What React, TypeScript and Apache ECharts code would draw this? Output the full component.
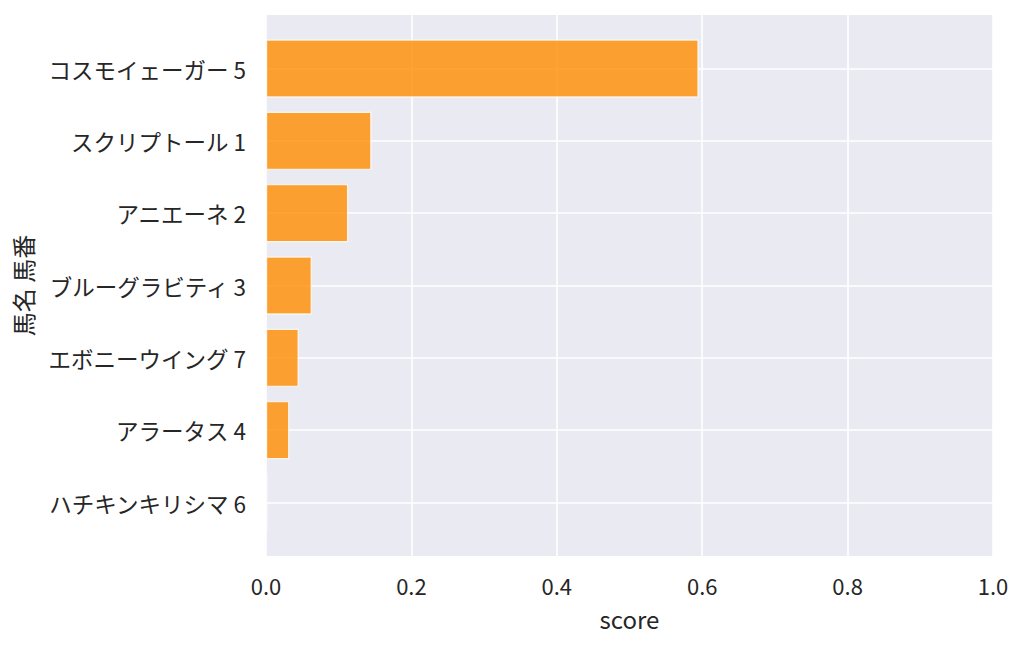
import React, { useEffect, useRef } from "react";
import * as echarts from "echarts";

const horseNames = [
  "コスモイェーガー 5",
  "スクリプトール 1",
  "アニエーネ 2",
  "ブルーグラビティ 3",
  "エボニーウイング 7",
  "アラータス 4",
  "ハチキンキリシマ 6",
];
const scores = [0.595, 0.145, 0.113, 0.063, 0.045, 0.032, 0.002];
const xTicks = [0, 0.2, 0.4, 0.6, 0.8, 1.0];

const FONT = "'Noto Sans CJK JP', 'Noto Sans', sans-serif";
const TEXT = "#262626";

export default function App() {
  const ref = useRef<HTMLDivElement>(null);
  useEffect(() => {
    document.body.style.margin = "0";
    const chart = echarts.init(ref.current!, null, { renderer: "svg" });
    const left = 266;
    const width = 727;
    chart.setOption({
      animation: false,
      textStyle: { fontFamily: FONT },
      grid: [
        {
          left,
          width,
          top: 15,
          height: 541,
          show: true,
          backgroundColor: "#eaeaf2",
          borderWidth: 0,
        },
        { left, width, top: 68.5, height: 434 },
      ],
      xAxis: [
        {
          type: "value",
          gridIndex: 0,
          min: xTicks[0],
          max: xTicks[xTicks.length - 1],
          interval: 0.2,
          axisLine: { show: false },
          axisTick: { show: false },
          splitLine: { show: true, lineStyle: { color: "#ffffff", width: 1.6 } },
          axisLabel: {
            fontSize: 22,
            color: TEXT,
            margin: 18,
            fontFamily: FONT,
            formatter: (v: number) => v.toFixed(1),
          },
          name: "score",
          nameLocation: "middle",
          nameGap: 50,
          nameTextStyle: { fontSize: 24, color: TEXT, fontFamily: FONT },
        },
        {
          type: "value",
          gridIndex: 1,
          min: 0,
          max: 1,
          show: false,
        },
      ],
      yAxis: [
        {
          type: "value",
          gridIndex: 0,
          min: 0,
          max: 1,
          axisLine: { show: false },
          axisTick: { show: false },
          axisLabel: { show: false },
          splitLine: { show: false },
          name: "馬名 馬番",
          nameLocation: "middle",
          nameRotate: 90,
          nameGap: 232,
          nameTextStyle: { fontSize: 24, color: TEXT, fontFamily: FONT },
        },
        {
          type: "category",
          gridIndex: 1,
          data: horseNames,
          inverse: true,
          boundaryGap: false,
          axisLine: { show: false },
          axisTick: { show: false },
          splitLine: { show: true, lineStyle: { color: "#ffffff", width: 1.6 } },
          axisLabel: {
            fontSize: 22.5,
            color: TEXT,
            margin: 20,
            fontFamily: FONT,
            interval: 0,
          },
        },
      ],
      series: [
        {
          type: "bar",
          xAxisIndex: 1,
          yAxisIndex: 1,
          data: scores,
          barWidth: 58,
          clip: false,
          itemStyle: {
            color: "#ff8c00",
            opacity: 0.8,
            borderColor: "#ffffff",
            borderWidth: 1.2,
          },
        },
      ],
    });
    return () => chart.dispose();
  }, []);
  return <div ref={ref} style={{ width: 1024, height: 648 }} />;
}
